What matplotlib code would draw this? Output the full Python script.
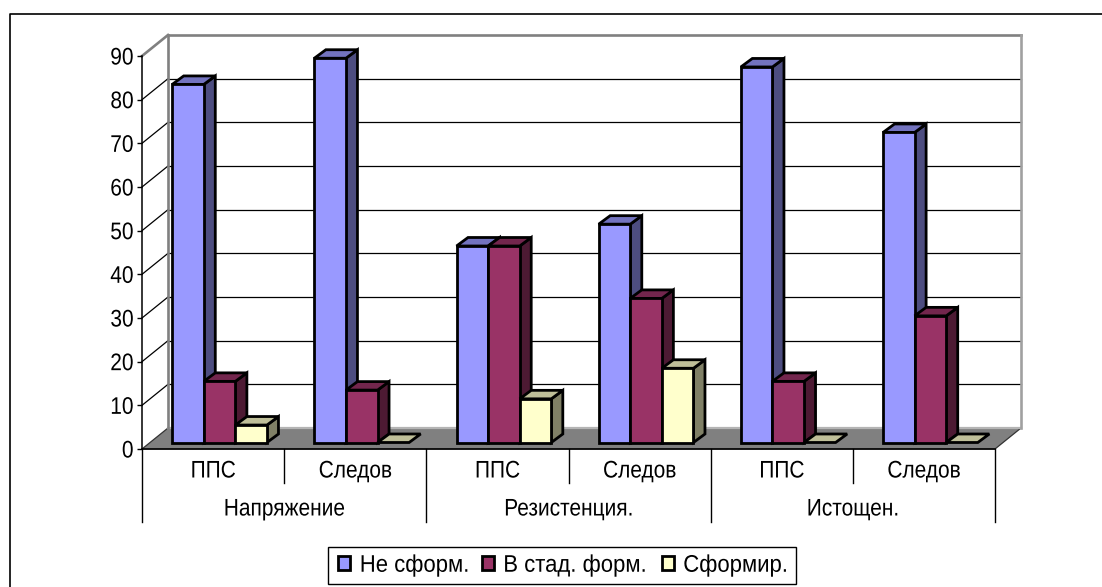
import matplotlib
matplotlib.use("Agg")
import matplotlib.pyplot as plt
from matplotlib.patches import Polygon, Patch, Rectangle
from matplotlib.patheffects import AbstractPathEffect
from matplotlib.transforms import Affine2D, IdentityTransform

plt.rcParams['font.family'] = ['Liberation Sans', 'DejaVu Sans']

groups = ["Напряжение", "Резистенция.", "Истощен."]
subcats = ["ППС", "Следов", "ППС", "Следов", "ППС", "Следов"]
series_names = ["Не сформ.", "В стад. форм.", "Сформир."]
not_formed = [82, 88, 45, 50, 86, 71]
in_stage = [14, 12, 45, 33, 14, 29]
formed = [4, 0, 10, 17, 0, 0]
series_values = [not_formed, in_stage, formed]
front_colors = ["#9999FF", "#993366", "#FFFFCC"]
side_colors = ["#4D4D80", "#4D1A33", "#808066"]
top_colors = ["#7373BF", "#73264D", "#BFBF99"]
y_ticks = list(range(0, 100, 10))

W, H = 1102, 587
X0, X1, Y0, Y90 = 142.0, 995.0, 138.0, 531.0   # axes box, pixels from bottom
WALL = (26, 21)
BAR_OFF = (6.5, 6.5)
BAR_DEPTH = (11.5, 8.5)
GAP = 1 / 6
BW = 2 / 9
FS = 17.3
SQUEEZE = 0.87
SQUEEZE_LEGEND = 0.92


class Squeeze(AbstractPathEffect):
    """Draw a text narrower than its natural width, about one of its edges."""

    def __init__(self, sx, anchor="center"):
        super().__init__()
        self.sx, self.anchor = sx, anchor

    def draw_path(self, renderer, gc, tpath, affine, rgbFace=None):
        e = tpath.get_extents()
        ax_ = {"left": e.x0, "center": (e.x0 + e.x1) / 2, "right": e.x1}[self.anchor]
        a = Affine2D().translate(-ax_, 0).scale(self.sx, 1).translate(ax_, 0) + affine
        renderer.draw_path(gc, tpath, a, rgbFace)


fig = plt.figure(figsize=(W / 100, H / 100), dpi=100, facecolor="white")
ax = fig.add_axes([X0 / W, Y0 / H, (X1 - X0) / W, (Y90 - Y0) / H])
ax.set_xlim(0, 6)
ax.set_ylim(0, 90)
ax.set_autoscale_on(False)
ax.patch.set_visible(False)
for s in ("top", "right"):
    ax.spines[s].set_visible(False)
ax.spines["left"].set_linewidth(1.1)
ax.spines["bottom"].set_linewidth(1.1)
ax.spines["left"].set_zorder(1.5)
ax.set_yticks(y_ticks)
ax.set_xticks([])
ax.tick_params(axis="y", length=3.5, width=1.0, labelsize=FS, pad=2.5)
for lab in ax.get_yticklabels():
    lab.set_path_effects([Squeeze(SQUEEZE, "right")])

ID = IdentityTransform()


def px(x, v, dx=0.0, dy=0.0):
    p = ax.transData.transform((x, v))
    return (p[0] + dx, p[1] + dy)


def poly(points, fc, ec="black", lw=2.0, z=3):
    ax.add_patch(Polygon(points, closed=True, facecolor=fc, edgecolor=ec, linewidth=lw,
                         joinstyle="miter", transform=ID, clip_on=False, zorder=z))


def seg(a, b, color="black", lw=0.9, z=1):
    ax.plot([a[0], b[0]], [a[1], b[1]], color=color, lw=lw, transform=ID,
            clip_on=False, zorder=z, solid_capstyle="projecting")


# floor
poly([px(0, 0), px(6, 0), px(6, 0, *WALL), px(0, 0, *WALL)], "#808080", ec="#333333", lw=0.9, z=1)
seg(px(0, 0, *WALL), px(6, 0, *WALL), color="#B4B4B4", lw=1.6, z=1.1)

# gridlines on the back and side walls
for v in y_ticks[1:-1]:
    seg(px(0, v, *WALL), px(6, v, *WALL))
    seg(px(0, v), px(0, v, *WALL))

# wall frame
seg(px(0, 90), px(0, 90, *WALL), color="#808080", lw=1.9, z=1.2)
seg(px(0, 90, *WALL), px(6, 90, *WALL), color="#808080", lw=1.9, z=1.2)
seg(px(0, 90, *WALL), px(0, 0, *WALL), color="#808080", lw=1.9, z=1.2)
seg(px(6, 90, *WALL), px(6, 0, *WALL), color="#A0A0A0", lw=1.9, z=1.2)

# bars
bar_tf = ax.transData + Affine2D().translate(*BAR_OFF)
z = 3.0
for c in range(len(subcats)):
    for s, vals in enumerate(series_values):
        v = vals[c]
        x = c + GAP + s * BW
        ox, oy = BAR_OFF
        dx, dy = BAR_DEPTH
        if v > 0:
            poly([px(x + BW, 0, ox, oy), px(x + BW, v, ox, oy),
                  px(x + BW, v, ox + dx, oy + dy), px(x + BW, 0, ox + dx, oy + dy)],
                 side_colors[s], z=z)
        poly([px(x, v, ox, oy), px(x + BW, v, ox, oy),
              px(x + BW, v, ox + dx, oy + dy), px(x, v, ox + dx, oy + dy)],
             top_colors[s], z=z)
        z += 0.01
        if v > 0:
            bars = ax.bar([x], [v], width=BW, align="edge", color=front_colors[s],
                          edgecolor="black", linewidth=2.0, transform=bar_tf,
                          clip_on=False, zorder=z)
            for b in bars:
                b.set_joinstyle("miter")
        z += 0.01

# multi-level category axis
TICK1, TICK2 = 34.0, 73.0   # separator lengths in pixels
for i in range(7):
    major = i % 2 == 0
    a = px(i, 0)
    seg(a, (a[0], a[1] - (TICK2 if major else TICK1)), lw=1.0, z=2)
for i, name in enumerate(subcats):
    ax.annotate(name, (i + 0.5, 0), xytext=(0, -22.5), textcoords="offset pixels",
                ha="center", va="center", fontsize=FS, annotation_clip=False,
                path_effects=[Squeeze(SQUEEZE)])
for i, name in enumerate(groups):
    ax.annotate(name, (2 * i + 1, 0), xytext=(0, -60.5), textcoords="offset pixels",
                ha="center", va="center", fontsize=FS, annotation_clip=False,
                path_effects=[Squeeze(SQUEEZE)])

# chart-area border: only top and left fall inside the picture
fig.add_artist(plt.Line2D([9.5 / W, 9.5 / W, 1], [0, (H - 14) / H, (H - 14) / H],
                          color="black", lw=1.2, transform=fig.transFigure))

# legend
fig.add_artist(Rectangle((328, H - 584), 468, 37, facecolor="white", edgecolor="black",
                         linewidth=1.0, transform=ID))
handles = [Patch(facecolor=c, edgecolor="black", linewidth=2.0, label=n)
           for c, n in zip(front_colors, series_names)]
leg = fig.legend(handles=handles, ncol=3, loc="center left",
                 bbox_to_anchor=(338 / W, (H - 565.5) / H), fontsize=FS,
                 frameon=False, handlelength=0.5, handleheight=0.5, handletextpad=0.4,
                 columnspacing=0.12, borderpad=0, borderaxespad=0)
for t in leg.get_texts():
    t.set_path_effects([Squeeze(SQUEEZE_LEGEND, "left")])

fig.savefig("out.png", dpi=100, facecolor="white")
